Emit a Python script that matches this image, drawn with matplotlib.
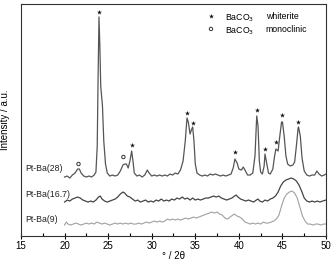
import matplotlib
matplotlib.use("Agg")
import matplotlib.pyplot as plt
from matplotlib.ticker import MultipleLocator

plt.rcParams['font.family'] = ['Liberation Sans', 'DejaVu Sans']

# Pt-Ba(28)
x28 = [20.0, 20.3, 20.6, 20.9, 21.2, 21.5, 21.7, 21.9, 22.2, 22.5, 22.8, 23.1, 23.4, 23.6, 23.75, 23.85,
       23.95, 24.05, 24.15, 24.25, 24.35, 24.5, 24.7, 24.9, 25.2, 25.5, 25.8, 26.1, 26.4, 26.7, 26.9, 27.1,
       27.3, 27.5, 27.7, 27.85, 28.0, 28.3, 28.6, 28.9, 29.2, 29.5, 29.7, 30.0, 30.3, 30.6, 30.9, 31.2,
       31.5, 31.8, 32.1, 32.4, 32.7, 33.0, 33.3, 33.6, 33.85, 34.05, 34.2, 34.4, 34.55, 34.7, 34.85, 35.0,
       35.2, 35.5, 35.8, 36.1, 36.4, 36.7, 37.0, 37.3, 37.6, 37.9, 38.2, 38.5, 38.8, 39.1, 39.35, 39.55,
       39.8, 40.0, 40.3, 40.5, 40.7, 41.0, 41.3, 41.6, 41.85, 42.05, 42.2, 42.35, 42.5, 42.7, 42.9, 43.0,
       43.15, 43.4, 43.6, 43.9, 44.1, 44.25, 44.5, 44.7, 44.9, 45.0, 45.2, 45.4, 45.6, 45.9, 46.2, 46.4,
       46.6, 46.8, 46.85, 47.05, 47.25, 47.5, 47.8, 48.1, 48.4, 48.7, 48.95, 49.2, 49.5, 49.8, 50.0]
y28 = [59, 60, 58, 61, 63, 67, 67, 63, 60, 59, 60, 59, 61, 64, 90, 160,
       219, 190, 150, 140, 130, 95, 72, 63, 60, 61, 60, 61, 65, 71, 72, 72,
       68, 75, 85, 75, 63, 60, 61, 59, 61, 66, 63, 60, 61, 60, 61, 60,
       61, 60, 62, 61, 63, 62, 66, 75, 95, 118, 114, 102, 106, 109, 95, 72,
       63, 61, 60, 61, 60, 62, 61, 62, 61, 60, 61, 60, 61, 62, 68, 77,
       73, 67, 66, 69, 66, 61, 61, 63, 80, 120, 110, 75, 64, 62, 70, 82,
       75, 63, 62, 67, 80, 87, 85, 100, 114, 114, 100, 80, 72, 70, 71, 74,
       90, 108, 109, 100, 78, 65, 61, 60, 61, 61, 65, 62, 60, 61, 62]

# Pt-Ba(16.7)
x167 = [20.0, 20.3, 20.6, 20.9, 21.2, 21.5, 21.8, 22.1, 22.4, 22.7, 23.0, 23.3, 23.6, 23.9, 24.1, 24.3,
        24.6, 24.9, 25.2, 25.5, 25.8, 26.1, 26.4, 26.7, 26.9, 27.2, 27.5, 27.8, 28.1, 28.4, 28.7, 29.0,
        29.3, 29.6, 29.9, 30.2, 30.5, 30.8, 31.1, 31.4, 31.7, 32.0, 32.3, 32.6, 32.9, 33.2, 33.5, 33.8,
        34.1, 34.4, 34.7, 35.0, 35.3, 35.6, 35.9, 36.2, 36.5, 36.8, 37.1, 37.4, 37.7, 38.0, 38.3, 38.6,
        38.9, 39.2, 39.5, 39.7, 39.9, 40.2, 40.5, 40.8, 41.1, 41.4, 41.7, 42.0, 42.2, 42.4, 42.7, 43.0,
        43.3, 43.6, 43.9, 44.2, 44.5, 44.8, 45.1, 45.4, 45.7, 46.0, 46.3, 46.6, 46.9, 47.2, 47.5, 47.8,
        48.1, 48.4, 48.7, 49.0, 49.3, 49.6, 50.0]
y167 = [34, 36, 35, 37, 38, 39, 38, 36, 35, 34, 35, 34, 36, 39, 40, 37,
        35, 34, 35, 36, 37, 39, 42, 44, 43, 40, 39, 37, 35, 36, 34, 35,
        36, 34, 35, 34, 36, 35, 37, 35, 36, 35, 37, 36, 38, 37, 39, 37,
        38, 36, 38, 36, 37, 36, 37, 38, 38, 39, 40, 39, 40, 38, 37, 36,
        37, 38, 40, 41, 39, 37, 36, 35, 36, 35, 34, 36, 37, 35, 34, 36,
        35, 37, 38, 40, 44, 50, 54, 56, 57, 58, 57, 55, 51, 45, 38, 35,
        34, 35, 34, 35, 34, 35, 36]

# Pt-Ba(9)
x9 = [20.0, 20.2, 20.4, 20.7, 21.0, 21.3, 21.6, 21.9, 22.2, 22.5, 22.8, 23.1, 23.4, 23.7, 24.0, 24.3,
      24.6, 24.9, 25.2, 25.5, 25.8, 26.1, 26.4, 26.7, 27.0, 27.3, 27.6, 27.9, 28.2, 28.5, 28.8, 29.1,
      29.4, 29.7, 30.0, 30.3, 30.6, 30.9, 31.2, 31.5, 31.8, 32.1, 32.4, 32.7, 33.0, 33.3, 33.6, 33.9,
      34.2, 34.5, 34.8, 35.1, 35.4, 35.7, 36.0, 36.3, 36.6, 36.9, 37.2, 37.5, 37.8, 38.1, 38.4, 38.7,
      39.0, 39.3, 39.5, 39.8, 40.1, 40.4, 40.7, 41.0, 41.3, 41.6, 41.9, 42.2, 42.5, 42.8, 43.1, 43.4,
      43.7, 44.0, 44.3, 44.6, 44.9, 45.2, 45.5, 45.8, 46.1, 46.4, 46.7, 47.0, 47.3, 47.6, 47.9, 48.2,
      48.5, 48.8, 49.1, 49.4, 49.7, 50.0]
y9 = [11, 14, 12, 11, 12, 13, 12, 11, 12, 13, 12, 13, 12, 14, 13, 12,
      13, 12, 11, 12, 13, 12, 13, 12, 13, 12, 13, 12, 12, 13, 12, 13,
      14, 13, 14, 15, 14, 15, 14, 15, 17, 16, 17, 16, 17, 16, 17, 18,
      17, 18, 19, 18, 19, 20, 21, 22, 23, 24, 23, 24, 22, 21, 18, 17,
      19, 21, 22, 20, 19, 17, 14, 13, 12, 13, 12, 13, 12, 14, 13, 13,
      14, 15, 17, 21, 30, 38, 42, 44, 45, 43, 38, 29, 20, 15, 12, 12,
      11, 12, 12, 11, 12, 12]

sample_labels = ["Pt-Ba(28)", "Pt-Ba(16.7)", "Pt-Ba(9)"]
label_y = [68, 42, 17]

whiterite_x = [24.0, 27.7, 34.08, 34.77, 39.56, 42.05, 43.0, 44.23, 44.92, 46.82]
whiterite_y = [224, 91, 123, 113, 84, 126, 87, 94, 121, 114]
mono_x = [21.6, 26.75]
mono_y = [72, 79]

fig = plt.figure(figsize=(3.33, 2.62), dpi=100)
ax = fig.add_axes([0.063, 0.099, 0.916, 0.886])

ax.plot(x28, y28, color='#555555', lw=0.9)
ax.plot(x167, y167, color='#444444', lw=0.9)
ax.plot(x9, y9, color='#a0a0a0', lw=0.8)

for lab, ly in zip(sample_labels, label_y):
    ax.text(15.5, ly, lab, fontsize=6.3, color='#222222', va='center', ha='left')

ax.scatter(whiterite_x, whiterite_y, marker='*', s=14, color='#111111', linewidths=0)
ax.scatter(mono_x, mono_y, marker='o', s=6, facecolors='none', edgecolors='#333333', linewidths=0.7)

# legend
ax.scatter([36.8], [220], marker='*', s=14, color='#111111', linewidths=0)
ax.scatter([36.8], [207], marker='o', s=6, facecolors='none', edgecolors='#333333', linewidths=0.7)
ax.text(38.4, 218, "BaCO$_3$", fontsize=6.3, va='center', ha='left')
ax.text(43.1, 219, "whiterite", fontsize=6.3, va='center', ha='left')
ax.text(38.4, 205, "BaCO$_3$", fontsize=6.3, va='center', ha='left')
ax.text(43.1, 206, "monoclinic", fontsize=6.3, va='center', ha='left')

ax.set_xlim(15, 50)
ax.set_ylim(0, 232)
ax.set_yticks([])
ax.xaxis.set_major_locator(MultipleLocator(5))
ax.xaxis.set_minor_locator(MultipleLocator(2.5))
ax.tick_params(axis='x', which='major', direction='inout', length=5, width=0.8, labelsize=7, pad=1)
ax.tick_params(axis='x', which='minor', direction='in', length=2.5, width=0.8)
for s in ax.spines.values():
    s.set_color('#333333')
    s.set_linewidth(0.8)

ax.set_ylabel("Intensity / a.u.", fontsize=7)
ax.yaxis.set_label_coords(-0.035, 0.5)
ax.set_xlabel("° / 2θ", fontsize=7, labelpad=0)

fig.savefig("out.png", dpi=100)
